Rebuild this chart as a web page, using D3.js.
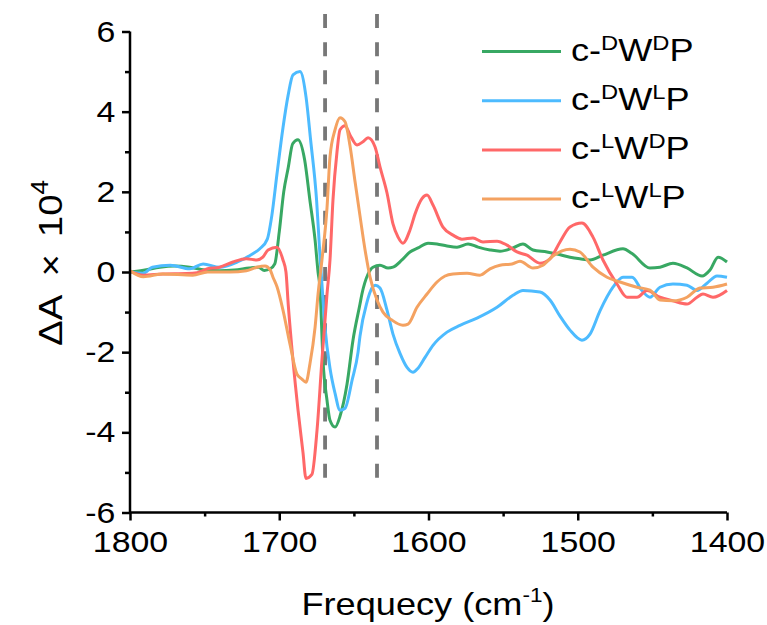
<!DOCTYPE html>
<html><head><meta charset="utf-8">
<script src="https://cdn.jsdelivr.net/npm/d3@7"></script>
<style>html,body{margin:0;padding:0;background:#fff;}svg{display:block;}</style>
</head><body>
<svg id="chart" width="767" height="625"></svg>
<script>
// ---- data: [frequency (cm-1), ΔA × 10^4] ----
const dWdP = [[1800,0],[1790,0.05],[1780,0.12],[1770,0.15],[1760,0.12],[1750,0.05],[1740,0.03],[1730,0.05],[1720,0.1],[1714,0.12],[1710,0.04],[1706,0.08],[1703,0.2],[1700,1.0],[1697,2.0],[1694,2.6],[1691,3.2],[1687.5,3.3],[1683,2.8],[1679.5,1.8],[1676,0.8],[1674,0],[1672.7,-0.4],[1670.7,-2.2],[1668,-3.2],[1666,-3.7],[1662.6,-3.87],[1659.3,-3.6],[1654.6,-2.8],[1650.6,-1.7],[1645.9,-0.8],[1644.6,-0.55],[1640.5,-0.05],[1637.2,0.12],[1632.5,0.17],[1627.1,0.1],[1623.8,0.12],[1617.8,0.3],[1612.4,0.5],[1607,0.6],[1600.3,0.72],[1594.3,0.7],[1587.6,0.65],[1580.9,0.62],[1573.5,0.7],[1566.8,0.62],[1558.8,0.55],[1552.1,0.52],[1543.4,0.6],[1536.7,0.7],[1530,0.55],[1520.6,0.5],[1513.9,0.45],[1505.2,0.37],[1498.5,0.33],[1491.8,0.3],[1483.1,0.42],[1469.7,0.58],[1463.6,0.46],[1451.6,0.1],[1444.9,0.12],[1436.2,0.22],[1426.8,0.1],[1416.7,-0.1],[1411.4,0.05],[1406,0.37],[1400,0.25]];
const dWlP = [[1800,0],[1791,-0.03],[1785,0.12],[1773,0.17],[1760,0.08],[1751,0.2],[1740,0.12],[1728,0.25],[1718,0.45],[1713,0.58],[1708,0.82],[1705,1.4],[1701.5,2.45],[1697.5,3.6],[1694.1,4.4],[1690.8,4.92],[1686.1,5.0],[1682,4.35],[1679,3.3],[1675,1.8],[1672.7,0.4],[1671.4,-0.3],[1669.3,-1.4],[1666,-2.4],[1662.6,-3.03],[1659.3,-3.45],[1655.9,-3.4],[1651.2,-2.7],[1647.2,-2.0],[1645.9,-1.6],[1641.2,-0.75],[1637.9,-0.4],[1635.8,-0.33],[1632.5,-0.4],[1627.8,-0.95],[1623.8,-1.55],[1619.1,-2.03],[1614.4,-2.38],[1610.4,-2.5],[1607,-2.4],[1602.3,-2.13],[1597,-1.83],[1587.6,-1.5],[1578.9,-1.33],[1567.5,-1.15],[1554.1,-0.88],[1543.4,-0.58],[1536.7,-0.46],[1525.3,-0.5],[1518.6,-0.7],[1511.9,-1.1],[1505.2,-1.45],[1497.2,-1.7],[1491.8,-1.55],[1485.1,-0.97],[1476.4,-0.38],[1469.7,-0.13],[1463.6,-0.13],[1457,-0.46],[1451.6,-0.63],[1444.9,-0.38],[1436.2,-0.3],[1426.8,-0.33],[1420.1,-0.46],[1413.4,-0.28],[1406.7,-0.1],[1400,-0.13]];
const lWdP = [[1800,0.02],[1791,-0.08],[1778,-0.05],[1762,-0.04],[1755,-0.02],[1748,0.08],[1740,0.12],[1731,0.25],[1722,0.33],[1715,0.3],[1711,0.37],[1707.5,0.55],[1701.5,0.62],[1697.5,0.3],[1695.5,0],[1694,-0.8],[1690.8,-2.2],[1687.4,-3.45],[1684.1,-4.5],[1682.1,-5.15],[1678.1,-5.05],[1674.7,-3.95],[1671.4,-2.2],[1668,-0.55],[1666,0.3],[1664,1.8],[1661.3,3.0],[1659.3,3.55],[1655.9,3.65],[1652.6,3.42],[1647.9,3.17],[1643.9,3.25],[1640.5,3.35],[1635.8,3.12],[1632.5,2.62],[1627.8,1.97],[1623.8,1.2],[1620.4,0.87],[1617.1,0.72],[1612.4,1.05],[1609,1.45],[1604.4,1.83],[1601,1.92],[1597,1.67],[1590.3,1.12],[1583.6,0.92],[1577.6,0.82],[1570.2,0.85],[1563.5,0.75],[1554.1,0.77],[1547.4,0.67],[1540.7,0.5],[1534,0.42],[1525.3,0.22],[1518.6,0.33],[1511.9,0.75],[1505.2,1.12],[1497.2,1.22],[1489.8,0.87],[1483.1,0.3],[1473.7,-0.3],[1467,-0.63],[1460.3,-0.63],[1453.6,-0.46],[1444.9,-0.63],[1436.2,-0.72],[1426.8,-0.8],[1420.1,-0.63],[1416.1,-0.55],[1409.4,-0.63],[1400,-0.46]];
const lWlP = [[1800,0.03],[1791,-0.12],[1778,-0.05],[1758,-0.08],[1748,0],[1733,0],[1722,0.03],[1715,0.12],[1709.5,0.15],[1706.2,0.06],[1704.2,-0.13],[1701.5,-0.37],[1697.5,-0.95],[1692.8,-1.8],[1688.1,-2.55],[1684.8,-2.67],[1682.1,-2.75],[1679.4,-2.28],[1676,-1.38],[1674,-0.55],[1671.4,0.3],[1668,1.6],[1666,2.87],[1662.6,3.55],[1659.3,3.85],[1655.9,3.75],[1652.6,3.15],[1649.2,2.25],[1645.9,1.4],[1642.5,0.55],[1639.2,-0.12],[1634.5,-0.7],[1630.5,-1.0],[1624.5,-1.2],[1617.1,-1.33],[1613.7,-1.3],[1607.7,-0.88],[1601,-0.55],[1594.3,-0.25],[1588.9,-0.1],[1583.6,-0.05],[1574.2,-0.03],[1565.5,-0.08],[1558.8,0.08],[1552.1,0.17],[1544,0.2],[1538.7,0.27],[1530,0.1],[1523.3,0.17],[1516.6,0.4],[1505.2,0.57],[1498.5,0.5],[1489.8,0.12],[1480.4,-0.13],[1471.7,-0.25],[1460.3,-0.38],[1451.6,-0.45],[1444.9,-0.7],[1436.2,-0.72],[1426.8,-0.63],[1418.1,-0.4],[1409.4,-0.38],[1400,-0.3]];

const seriesNames = [["D","D"],["D","L"],["L","D"],["L","L"]];
const seriesData = [dWdP, dWlP, lWdP, lWlP];
const seriesColors = ["#38a863", "#4dbbff", "#ff6868", "#f4a261"];
const markerFreqs = [1669.3, 1634.5];
const xTicks = [1800, 1700, 1600, 1500, 1400];
const xMinorTicks = [1750, 1650, 1550, 1450];
const yTicks = [-6, -4, -2, 0, 2, 4, 6];
const yMinorTicks = [-5, -3, -1, 1, 3, 5];

const svg = d3.select("#chart");
const FONT = "'Liberation Sans', Arial, sans-serif";
const SX = 1.13; // horizontal stretch of the reference lettering
const x = d3.scaleLinear().domain([1800, 1400]).range([130, 727]);
const y = d3.scaleLinear().domain([-6, 6]).range([512.5, 31.5]);

// dashed markers
svg.selectAll("line.marker").data(markerFreqs).enter().append("line")
  .attr("class", "marker")
  .attr("x1", d => x(d)).attr("x2", d => x(d))
  .attr("y1", y(-5.13)).attr("y2", y(7))
  .attr("stroke", "#777").attr("stroke-width", 3.8)
  .attr("stroke-dasharray", "14,14.1");

// curves
const line = d3.line().x(d => x(d[0])).y(d => y(d[1])).curve(d3.curveMonotoneX);
seriesData.forEach((s, i) => {
  svg.append("path").datum(s).attr("d", line)
    .attr("fill", "none").attr("stroke", seriesColors[i])
    .attr("stroke-width", 3).attr("stroke-linejoin", "round");
});

// axes
const fmt = d => String(d);
const xAxis = svg.append("g").attr("transform", `translate(0,${y(-6)})`)
  .call(d3.axisBottom(x).tickValues(xTicks).tickSize(8).tickPadding(10).tickFormat(fmt));
svg.append("g").attr("transform", `translate(0,${y(-6)})`)
  .call(d3.axisBottom(x).tickValues(xMinorTicks).tickSize(4).tickFormat(""))
  .select(".domain").remove();
const yAxis = svg.append("g").attr("transform", `translate(${x(1800)},0)`)
  .call(d3.axisLeft(y).tickValues(yTicks).tickSize(8).tickPadding(5).tickFormat(fmt));
svg.append("g").attr("transform", `translate(${x(1800)},0)`)
  .call(d3.axisLeft(y).tickValues(yMinorTicks).tickSize(5).tickFormat(""))
  .select(".domain").remove();
svg.selectAll(".domain").attr("stroke", "#000").attr("stroke-width", 2.5);
svg.selectAll(".tick line").attr("stroke", "#000").attr("stroke-width", 2.5);
svg.selectAll(".tick text").attr("font-family", FONT).attr("font-size", 30).attr("fill", "#000")
  .attr("transform", `scale(${SX},1)`);
xAxis.selectAll(".domain").attr("d", `M${x(1800)},0H${x(1400)}`);
yAxis.selectAll(".domain").attr("d", `M0,${y(-6)}V${y(6)}`);

// axis titles
const yl = svg.append("text").attr("transform", `translate(62,263) rotate(-90) scale(${SX},1)`)
  .attr("text-anchor", "middle").attr("font-family", FONT).attr("font-size", 34);
yl.append("tspan").text("ΔA");
yl.append("tspan").text("×").attr("dx", 16);
yl.append("tspan").text("10").attr("dx", 15);
yl.append("tspan").text("4").attr("font-size", 23).attr("dy", -14);

const xl = svg.append("text").attr("transform", `translate(428,615) scale(${SX},1)`)
  .attr("text-anchor", "middle").attr("font-family", FONT).attr("font-size", 32);
xl.append("tspan").text("Frequecy (cm");
xl.append("tspan").text("-1").attr("font-size", 20).attr("dy", -13);
xl.append("tspan").text(")").attr("dy", 13);

// legend
const lg = svg.append("g");
seriesNames.forEach((n, i) => {
  const yy = 51.5 + i * 49.2;
  lg.append("line").attr("x1", 482).attr("x2", 561).attr("y1", yy).attr("y2", yy)
    .attr("stroke", seriesColors[i]).attr("stroke-width", 3);
  const t = lg.append("text").attr("transform", `translate(571,${yy + 9}) scale(${SX},1)`)
    .attr("font-family", FONT).attr("font-size", 32);
  t.append("tspan").text("c-");
  t.append("tspan").text(n[0]).attr("font-size", 21).attr("dy", -11);
  t.append("tspan").text("W").attr("dy", 11);
  t.append("tspan").text(n[1]).attr("font-size", 21).attr("dy", -11);
  t.append("tspan").text("P").attr("dy", 11);
});
</script>
</body></html>
